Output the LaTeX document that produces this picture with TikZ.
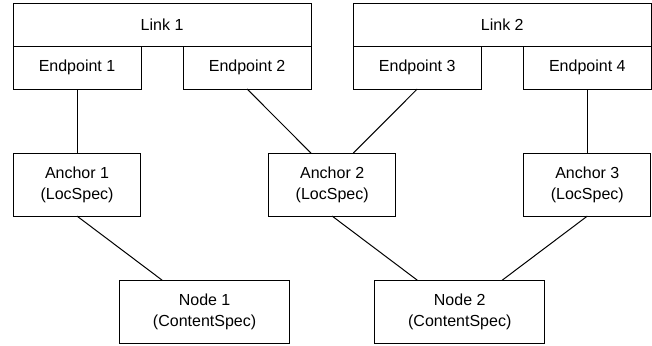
\documentclass[tikz,border=0pt]{standalone}
\usepackage{fontspec}
\setmainfont{Liberation Sans}
\usetikzlibrary{positioning, calc}

\begin{document}
\begin{tikzpicture}[-, line width=0.75pt, node distance=48pt,
    box/.style={draw, rectangle, inner sep=0pt, outer sep=0pt, align=center, font=\fontsize{12}{16}\selectfont},
    linkbox/.style={box, minimum width=223.5pt, minimum height=31.5pt},
    endbox/.style={box, minimum width=96pt, minimum height=32.25pt},
    anchorbox/.style={box, minimum width=95.25pt, minimum height=47.25pt},
    nodebox/.style={box, minimum width=127.5pt, minimum height=47.25pt}]
      % Links
      \node[linkbox] (link1) at (0,0) {Link 1};
      \node[linkbox] (link2) [right=31.5pt of link1] {Link 2};

      % Endpoints below the links
      \node[endbox, anchor=north west] (ep1) at (link1.south west) {Endpoint 1};
      \node[endbox, anchor=north east] (ep2) at (link1.south east) {Endpoint 2};
      \node[endbox, anchor=north west] (ep3) at (link2.south west) {Endpoint 3};
      \node[endbox, anchor=north east] (ep4) at (link2.south east) {Endpoint 4};

      % Anchors
      \node[anchorbox] (anc1) [below=of ep1] {Anchor 1\\(LocSpec)};
      \node[anchorbox] (anc3) [below=of ep4] {Anchor 3\\(LocSpec)};
      \node[anchorbox] (anc2) at ($(anc1)!0.5!(anc3)$) {Anchor 2\\(LocSpec)};

      % Nodes
      \coordinate (mid1) at ($(anc1.south)!0.5!(anc2.south)$);
      \coordinate (mid2) at ($(anc2.south)!0.5!(anc3.south)$);
      \node[nodebox] (nd1) [below=of mid1] {Node 1\\(ContentSpec)};
      \node[nodebox] (nd2) [below=of mid2] {Node 2\\(ContentSpec)};

      % Endpoint to anchor
      \draw (ep1) -- (anc1);
      \draw (ep2.south) -- ($(anc2.north west)!1/3!(anc2.north east)$);
      \draw (ep3.south) -- ($(anc2.north west)!2/3!(anc2.north east)$);
      \draw (ep4) -- (anc3);

      % Anchor to node
      \draw (anc1.south) -- ($(nd1.north west)!0.25!(nd1.north east)$);
      \draw (anc2.south) -- ($(nd2.north west)!0.25!(nd2.north east)$);
      \draw (anc3.south) -- ($(nd2.north west)!0.75!(nd2.north east)$);

      \useasboundingbox ($(link1.north west)+(-9.75pt,3pt)$) rectangle ($(link2.north east |- nd1.south)+(0.5pt,-1.5pt)$);
\end{tikzpicture}
\end{document}
